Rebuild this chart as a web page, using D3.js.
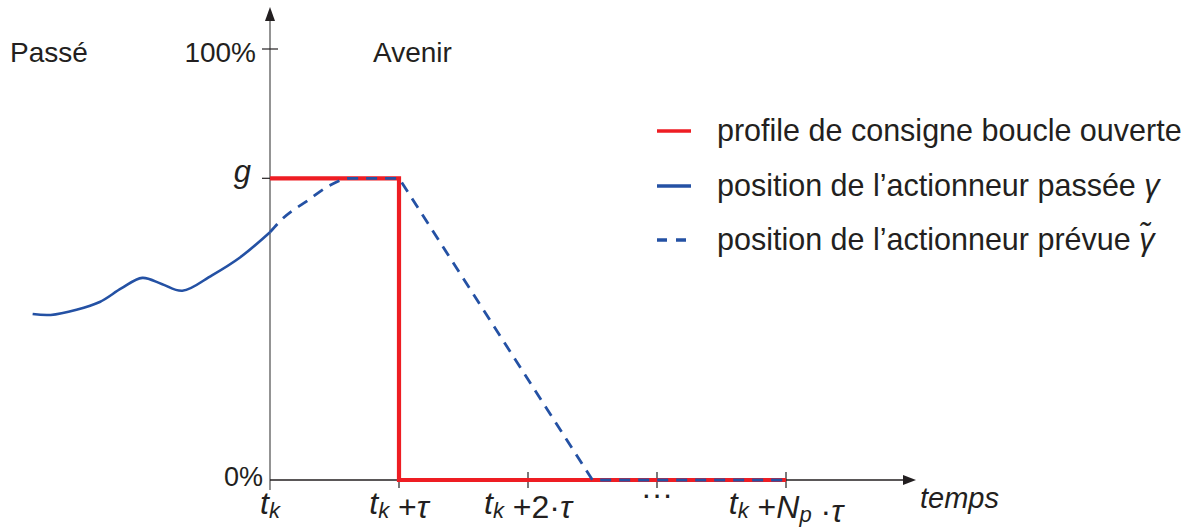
<!DOCTYPE html>
<html>
<head>
<meta charset="utf-8">
<script src="https://cdn.jsdelivr.net/npm/d3@7"></script>
<style>
  html, body { margin: 0; padding: 0; background: #fff; }
  svg text { font-family: "Liberation Sans", "DejaVu Sans", sans-serif; fill: #231f20; }
</style>
</head>
<body>
<svg id="chart" width="1191" height="528"></svg>
<script>
// ---- data (time in units of tau, position as fraction of 100%) ----
const gValue = 0.70;
const pastT = [-1.84, -1.70, -1.50, -1.32, -1.15, -0.99, -0.84, -0.68, -0.45, -0.23, 0];
const pastY = [0.385, 0.383, 0.395, 0.413, 0.445, 0.469, 0.455, 0.439, 0.475, 0.517, 0.575];
const predCurveT = [0, 0.10, 0.30, 0.46, 0.62, 0.80, 1.0];
const predCurveY = [0.575, 0.607, 0.650, 0.683, 0.700, 0.700, 0.700];
const predLineT = [1.0, 2.5, 4.0];
const predLineY = [0.700, 0, 0];
const setT = [0, 1, 4];
const setY = [gValue, 0, 0];
const xTicks = [0, 1, 2, 3, 4];
const yTicks = [0, gValue, 1];
const legendLabels = [
  "profile de consigne boucle ouverte",
  "position de l\u2019actionneur passée ",
  "position de l\u2019actionneur prévue "
];

const RED = "#ee1d23", BLUE = "#2451a4";
const svg = d3.select("#chart");
const x = d3.scaleLinear().domain([0, 1]).range([270, 399]);
const y = d3.scaleLinear().domain([0, 1]).range([480, 49]);

// ---- axes ----
svg.append("line").attr("x1", x(0)).attr("x2", x(0)).attr("y1", 490).attr("y2", 18)
  .attr("stroke", "#666").attr("stroke-width", 1.4);
svg.append("path").attr("d", `M${x(0)},7 L${x(0)-5},21 L${x(0)+5},21 Z`).attr("fill", "#231f20");
svg.append("line").attr("x1", x(0)).attr("x2", 906).attr("y1", y(0)).attr("y2", y(0))
  .attr("stroke", "#231f20").attr("stroke-width", 1.4);
svg.append("path").attr("d", `M916,${y(0)} L903,${y(0)-5} L903,${y(0)+5} Z`).attr("fill", "#231f20");

// y ticks
yTicks.forEach(v => {
  if (v === 0) return;
  const crossing = v === 1;
  svg.append("line").attr("x1", x(0) - 8).attr("x2", x(0) + (crossing ? 8 : 0))
    .attr("y1", y(v)).attr("y2", y(v)).attr("stroke", "#231f20").attr("stroke-width", 1.2);
});
// x ticks
xTicks.forEach(v => {
  if (v === 0) return;
  svg.append("line").attr("x1", x(v)).attr("x2", x(v))
    .attr("y1", v === 1 ? y(0) : y(0) - 8).attr("y2", y(0) + 8)
    .attr("stroke", "#231f20").attr("stroke-width", 1.2);
});

// ---- series ----
const zip = (a, b) => a.map((v, i) => [v, b[i]]);
const mk = (curve) => d3.line().x(d => x(d[0])).y(d => y(d[1])).curve(curve);

svg.append("path")
  .attr("d", mk(d3.curveStepAfter)(zip(setT, setY)))
  .attr("fill", "none").attr("stroke", RED).attr("stroke-width", 4.2);

svg.append("path")
  .attr("d", mk(d3.curveCatmullRom)(zip(pastT, pastY)))
  .attr("fill", "none").attr("stroke", BLUE).attr("stroke-width", 2.6);

const predPath = mk(d3.curveMonotoneX)(zip(predCurveT, predCurveY))
  + mk(d3.curveLinear)(zip(predLineT, predLineY)).replace(/^M/, "L");
svg.append("path").attr("d", predPath)
  .attr("fill", "none").attr("stroke", BLUE).attr("stroke-width", 2.8)
  .attr("stroke-dasharray", "11,8");

// ---- labels ----
const FS = 28;
svg.append("text").attr("x", 10).attr("y", 62).attr("font-size", FS).text("Passé");
svg.append("text").attr("x", 373).attr("y", 62).attr("font-size", FS).text("Avenir");
svg.append("text").attr("x", 256).attr("y", 62).attr("font-size", FS).attr("text-anchor", "end").text("100%");
svg.append("text").attr("x", 251).attr("y", 182).attr("font-size", 31).attr("font-style", "italic")
  .attr("text-anchor", "end").text("g");
svg.append("text").attr("x", 263).attr("y", 486).attr("font-size", 27).attr("text-anchor", "end").text("0%");
svg.append("text").attr("x", 920).attr("y", 508).attr("font-size", 29).attr("font-style", "italic").text("temps");

// tick labels as rich text
function tickLabel(v) {
  const t = svg.append("text").attr("x", x(v)).attr("y", 514).attr("font-size", 32).attr("text-anchor", "middle");
  const it = (s) => t.append("tspan").attr("font-style", "italic").text(s);
  const sub = (s) => { t.append("tspan").attr("font-style", "italic").attr("font-size", 22).attr("dy", 4).text(s);
                       t.append("tspan").attr("dy", -4).text(""); };
  const rm = (s) => t.append("tspan").text(s);
  if (v === 3) { t.attr("y", 505); rm("\u00b7\u00b7\u00b7"); return; }
  it("t"); sub("k");
  if (v === 1) { rm(" +"); it("\u03c4"); }
  if (v === 2) { rm(" +2\u00b7"); it("\u03c4"); }
  if (v === 4) { rm(" +"); it("N"); sub("p"); rm(" \u00b7"); it("\u03c4"); }
}
xTicks.forEach(tickLabel);

// ---- legend ----
const legY = [131, 186, 240];
const legStyles = [
  { c: RED, dash: null },
  { c: BLUE, dash: null },
  { c: BLUE, dash: "10,9" }
];
legendLabels.forEach((lab, i) => {
  svg.append("line").attr("x1", 657).attr("x2", 691).attr("y1", legY[i]).attr("y2", legY[i])
    .attr("stroke", legStyles[i].c).attr("stroke-width", 3.4)
    .attr("stroke-dasharray", legStyles[i].dash);
  const t = svg.append("text").attr("x", 717).attr("y", legY[i] + 10).attr("font-size", 30.5).text(lab);
  if (i === 1) t.append("tspan").attr("font-style", "italic").text("\u03b3");
  if (i === 2) t.append("tspan").attr("font-style", "italic").text("\u03b3\u0303");
});
</script>
</body>
</html>
